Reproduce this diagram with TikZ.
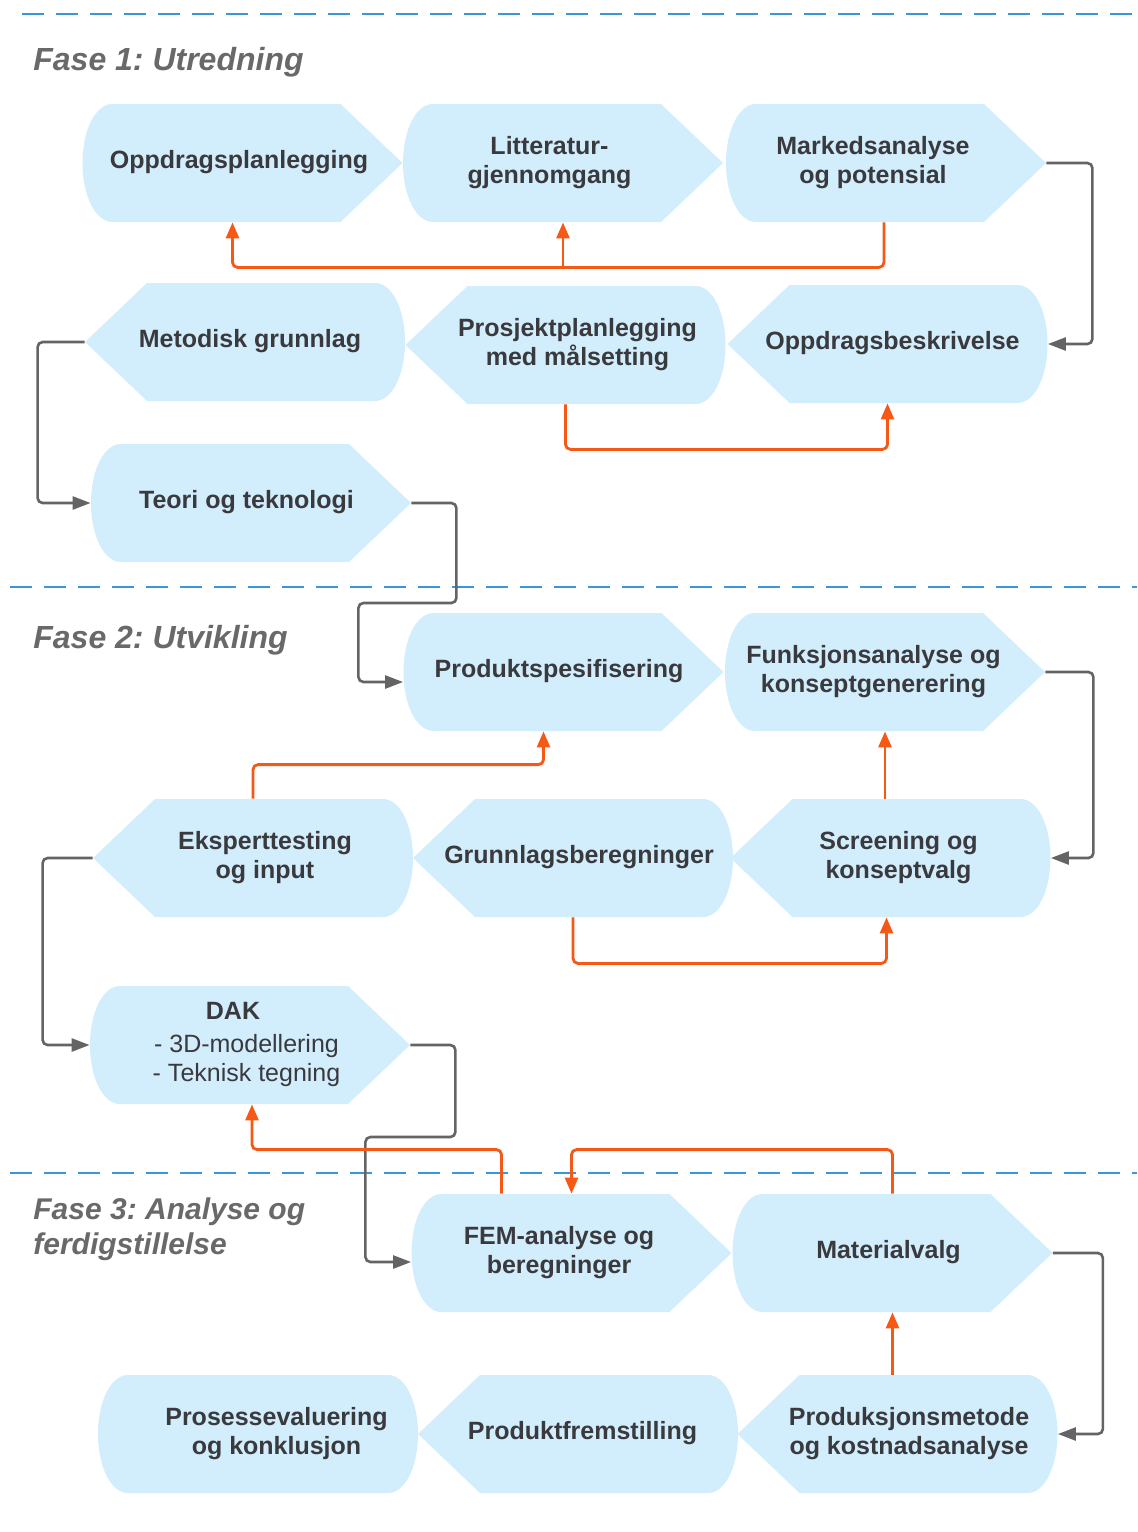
\documentclass[tikz,border=0pt]{standalone}
\usepackage{fontspec}
\setmainfont{Liberation Sans}
\usetikzlibrary{arrows.meta}
\definecolor{BoxClr}{RGB}{210,237,252}
\definecolor{TxtClr}{RGB}{58,58,62}
\definecolor{PhaseClr}{RGB}{105,105,105}
\definecolor{SeqClr}{RGB}{100,100,100}
\definecolor{BackClr}{RGB}{246,88,22}
\definecolor{DashClr}{RGB}{58,150,214}
\frenchspacing

\newcommand{\boxtxt}[2]{\makebox[0pt]{\hspace*{#1pt}\begin{tabular}{@{}c@{}}#2\end{tabular}}}
% name, cx, cy, text shift, text
\newcommand{\stepR}[5]{%
\fill[BoxClr] (#2-130,#3-59) -- (#2+98,#3-59) -- (#2+160,#3) -- (#2+98,#3+59) -- (#2-130,#3+59)
 .. controls (#2-147,#3+59) and (#2-160,#3+33) .. (#2-160,#3)
 .. controls (#2-160,#3-33) and (#2-147,#3-59) .. cycle;
\node[stepnode] (#1) at (#2,#3) {\boxtxt{#4}{#5}};}
\newcommand{\stepL}[5]{%
\fill[BoxClr] (#2-98,#3-59) -- (#2+130,#3-59)
 .. controls (#2+147,#3-59) and (#2+160,#3-33) .. (#2+160,#3)
 .. controls (#2+160,#3+33) and (#2+147,#3+59) .. (#2+130,#3+59)
 -- (#2-98,#3+59) -- (#2-160,#3) -- cycle;
\node[stepnode] (#1) at (#2,#3) {\boxtxt{#4}{#5}};}
\newcommand{\stepO}[5]{%
\fill[BoxClr] (#2-130,#3-59) -- (#2+130,#3-59)
 .. controls (#2+147,#3-59) and (#2+160,#3-33) .. (#2+160,#3)
 .. controls (#2+160,#3+33) and (#2+147,#3+59) .. (#2+130,#3+59)
 -- (#2-130,#3+59)
 .. controls (#2-147,#3+59) and (#2-160,#3+33) .. (#2-160,#3)
 .. controls (#2-160,#3-33) and (#2-147,#3-59) .. cycle;
\node[stepnode] (#1) at (#2,#3) {\boxtxt{#4}{#5}};}

\begin{document}
\begin{tikzpicture}[x=0.5pt,y=-0.5pt,
stepnode/.style={minimum width=160pt,minimum height=59pt,inner sep=0pt,text=TxtClr,
 font=\fontsize{12.5}{14.5}\selectfont\bfseries},
phase/.style={inner sep=0pt,align=left,text=PhaseClr,
 font=\fontsize{16}{17.5}\selectfont\bfseries\itshape},
phaseline/.style={DashClr,line width=1.3pt,dash pattern=on 11pt off 6pt},
seqarr/.style={draw=SeqClr,line width=1.3pt,rounded corners=2.5pt,-{Triangle[length=9pt,width=6.5pt]}},
backarr/.style={draw=BackClr,line width=1.4pt,rounded corners=2.5pt,-{Triangle[length=8pt,width=6.5pt]}}]
\useasboundingbox (0,0) rectangle (1137,1532);

\draw[phaseline] (22,14) -- (1137,14);
\draw[phaseline] (10,587) -- (1137,587);
\draw[phaseline] (10,1173) -- (1137,1173);

\node[phase,anchor=base west] (fase1) at (33,70) {Fase 1: Utredning};
\node[phase,anchor=base west] (fase2) at (33,648) {Fase 2: Utvikling};
\node[phase,anchor=north west,font=\fontsize{15}{17.5}\selectfont\bfseries\itshape] (fase3) at (33,1197) {Fase 3: Analyse og\\ferdigstillelse};

% Fase 1
\stepR{opl}{242.5}{163}{-3.5}{Oppdragsplanlegging}
\stepR{lit}{563}{163}{-13.5}{Litteratur-\\gjennomgang}
\stepR{mark}{886}{163}{-13}{Markedsanalyse\\og potensial}
\stepL{met}{245}{342}{5}{Metodisk grunnlag}
\stepL{prj}{565.5}{345}{12}{Prosjektplanlegging\\med målsetting}
\stepL{besk}{887.5}{344}{5}{Oppdragsbeskrivelse}
\stepR{teori}{251}{503}{-4.5}{Teori og teknologi}

% Fase 2
\stepR{spes}{563.5}{672}{-4.5}{Produktspesifisering}
\stepR{funk}{885}{672}{-11.5}{Funksjonsanalyse og\\konseptgenerering}
\stepL{eksp}{253}{858}{12}{Eksperttesting\\og input}
\stepL{grunn}{573}{858}{6}{Grunnlagsberegninger}
\stepL{scr}{890.5}{858}{8}{Screening og\\konseptvalg}
\stepR{dak}{250}{1045}{-3.5}{DAK\kern13.5pt\\[2pt]\mdseries - 3D-modellering\\\mdseries - Teknisk tegning}

% Fase 3
\stepR{fem}{571.5}{1253}{-12.5}{FEM-analyse og\\beregninger}
\stepR{mat}{892.5}{1253}{-4}{Materialvalg}
\stepO{pros}{258}{1434}{18.5}{Prosessevaluering\\og konklusjon}
\stepL{frem}{578}{1434}{4.5}{Produktfremstilling}
\stepL{prod}{897.5}{1434}{11.5}{Produksjonsmetode\\og kostnadsanalyse}

\draw[seqarr] (mark.east) -- ++(46,0) |- (besk.east);
\draw[backarr] ([xshift=-1pt]mark.south) -- ++(0,45) -| ([xshift=-5pt]opl.south);
\draw[backarr] (lit.south) ++(0,45) -- (lit.south);
\draw[backarr] (prj.south) -- ++(0,45) -| (besk.south);
\draw[seqarr] (met.west) -- ++(-47,0) |- (teori.west);
\draw[seqarr] (teori.east) -- ++(45,0) -- ++(0,100) -- ++(-98,0) |- ([yshift=-5pt]spes.west);

\draw[seqarr] (funk.east) -- ++(48,0) |- (scr.east);
\draw[backarr] (eksp.north) -- ++(0,-34) -| ([xshift=-10pt]spes.south);
\draw[backarr] (scr.north -| funk.south) -- (funk.south);
\draw[backarr] (grunn.south) -- ++(0,46) -| ([xshift=-2pt]scr.south);
\draw[seqarr] (eksp.west) -- ++(-50,0) |- (dak.west);

\draw[seqarr] (dak.east) -- ++(45,0) -- ++(0,92) -- ++(-90,0) |- ([yshift=-4.5pt]fem.west);
\draw[backarr] ([xshift=-35pt]fem.north) -- ++(0,-44) -| ([xshift=1pt]dak.south);
\draw[backarr] (mat.north) -- ++(0,-44) -| (fem.north);
\draw[seqarr] (mat.east) -- ++(50,0) |- (prod.east);
\draw[backarr] (prod.north -| mat.south) -- (mat.south);
\end{tikzpicture}
\end{document}
